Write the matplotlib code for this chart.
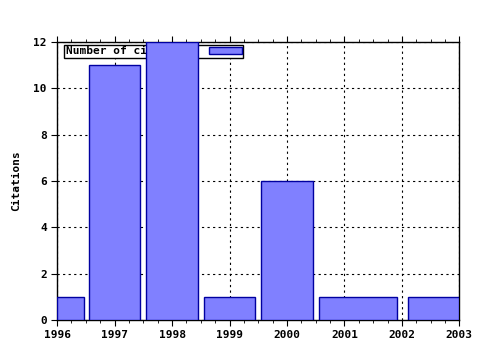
import matplotlib
matplotlib.use("Agg")
import matplotlib.pyplot as plt
from matplotlib.ticker import MultipleLocator

# bar extents (years) and citation counts
bar_left = [1996.0, 1996.56, 1997.55, 1998.55, 1999.55, 2000.55, 2002.1]
bar_right = [1996.46, 1997.45, 1998.46, 1999.45, 2000.46, 2001.91, 2003.0]
citations = [1, 11, 12, 1, 6, 1, 1]
year_ticks = [1996, 1997, 1998, 1999, 2000, 2001, 2002, 2003]
y_ticks = [0, 2, 4, 6, 8, 10, 12]

plt.rcParams['font.family'] = ['DejaVu Sans Mono']
plt.rcParams['font.weight'] = 'bold'

fig = plt.figure(figsize=(4.8, 3.5), dpi=100)
ax = fig.add_axes([0.119, 0.086, 0.838, 0.794])

widths = [r - l for l, r in zip(bar_left, bar_right)]
ax.bar(bar_left, citations, width=widths, align='edge',
       color='#8080ff', edgecolor='#0000a0', linewidth=1.0,
       zorder=3, label='Number of citations')

ax.set_xlim(1996, 2003)
ax.set_ylim(0, 12)
ax.set_xticks(year_ticks)
ax.set_yticks(y_ticks)
ax.xaxis.set_minor_locator(MultipleLocator(0.25))
ax.grid(True, which='major', color='black', linestyle=(0, (2, 3)), linewidth=0.8, zorder=1)
ax.tick_params(axis='both', which='major', direction='out', length=4, labelsize=8,
               top=True, right=False)
ax.tick_params(axis='x', which='minor', direction='out', length=2, top=True, bottom=True)
ax.tick_params(axis='y', which='minor', left=False, right=False)
for lab in ax.get_xticklabels() + ax.get_yticklabels():
    lab.set_fontweight('bold')
for sp in ax.spines.values():
    sp.set_linewidth(1.0)

ax.set_ylabel('Citations', fontsize=8, fontweight='bold', labelpad=9)

leg = ax.legend(loc='upper left', bbox_to_anchor=(0.017, 0.99), fontsize=8,
                frameon=True, fancybox=False, edgecolor='black', framealpha=1,
                borderpad=0.15, handlelength=2.9, handleheight=0.7,
                handletextpad=1.4, borderaxespad=0, markerfirst=False)
leg.get_frame().set_linewidth(1.0)
leg.set_zorder(2)
for t in leg.get_texts():
    t.set_fontweight('bold')

fig.savefig('out.png', dpi=100)
